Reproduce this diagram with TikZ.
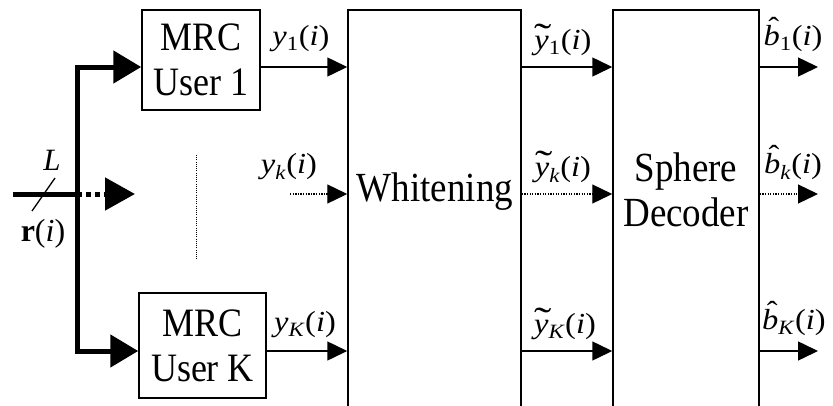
\documentclass[tikz,border=0pt]{standalone}
\usepackage{fontspec}
\setmainfont{Liberation Serif}
\usetikzlibrary{arrows.meta}
\newcommand\myhatb{\ooalign{\textit{b}\cr\hfil\kern0.12em\raisebox{0.28em}{\char"02C6}\hfil\cr}}
\newcommand\mytildey{\rlap{\makebox[0.46em][c]{\kern0.1em\raisebox{0.02em}{\scalebox{1.6}[1.3]{\char"02DC}}}}\textit{y}}
\newcommand\wlab[1]{\scalebox{1.12}[1]{#1}}
\newcommand\tallt[1]{\scalebox{1}[1.12]{#1}}
\begin{document}
\begin{tikzpicture}[x=1pt,y=-1pt,
  box/.style={draw,line width=1.5pt,inner sep=0pt,align=center,font=\fontsize{36}{45}\selectfont},
  bigtxt/.style={inner sep=0pt,align=center,font=\fontsize{37}{45}\selectfont},
  lbl/.style={inner sep=0pt,font=\fontsize{29}{32}\selectfont},
  thin/.style={line width=1.5pt,-{Triangle[length=20pt,width=19pt]}},
  dotline/.style={line width=1.3pt,dash pattern=on 1.3pt off 1.3pt,-{Triangle[length=20pt,width=19pt]}},
  fat/.style={line width=5pt,-{Triangle[length=28pt,width=32pt]}},
  fatline/.style={line width=5pt}]
\useasboundingbox (0,0) rectangle (833,405);
% rows
\coordinate (row1) at (0,67);
\coordinate (rowk) at (0,194);
\coordinate (rowK) at (0,351);
% blocks
\node[box,minimum width=118pt,minimum height=100pt] (mrc1) at (201,60) {\tallt{MRC}\\\tallt{User 1}};
\node[box,minimum width=127pt,minimum height=105pt] (mrcK) at (202.5,345.5) {\tallt{MRC}\\\tallt{User K}};
\node[draw,line width=1.5pt,minimum width=173pt,minimum height=420pt] (wh) at (434.5,220) {};
\node[bigtxt] (whtxt) at (435,192) {\tallt{Whitening}};
\node[draw,line width=1.5pt,minimum width=146pt,minimum height=420pt] (sd) at (686,220) {};
\node[bigtxt] (sdtxt) at (686,190) {\tallt{Sphere}\\\tallt{Decoder}};
% input
\coordinate (src) at (13,194);
\coordinate (split) at (77,194);
\coordinate (tipk) at (135,194);
\draw[fatline] (src) -- (split);
\draw[fat] (split) |- (mrc1.west |- row1);
\draw[fat] (split) |- (mrcK.west |- rowK);
\draw[line width=5pt,dash pattern=on 5pt off 4pt,-{Triangle[length=30pt,width=32pt]}] (split) -- (tipk);
\coordinate (sl1) at (32,211);
\coordinate (sl2) at (55,178);
\draw[line width=1.3pt] (sl1) -- (sl2);
\node[lbl,font=\fontsize{31}{34}\selectfont] (L) at (52,160) {\textit{L}};
\node[lbl,font=\fontsize{32}{34}\selectfont] (r) at (43,234) {\textbf{r}(\textit{i})};
% dotted vertical
\coordinate (dv1) at (196,155);
\coordinate (dv2) at (196,260);
\draw[line width=1pt,dash pattern=on 1pt off 1.2pt] (dv1) -- (dv2);
% MRC -> whitening
\draw[thin] (mrc1.east |- row1) -- (wh.west |- row1);
\draw[thin] (mrcK.east |- rowK) -- (wh.west |- rowK);
\coordinate (ykstart) at (290,194);
\draw[dotline] (ykstart) -- (wh.west |- rowk);
\node[lbl] (y1) at (301,39) {\wlab{\textit{y}\textsubscript{1}(\textit{i})}};
\node[lbl] (yk) at (289,167) {\wlab{\textit{y}\textsubscript{\textit{k}}(\textit{i})}};
\node[lbl] (yK) at (305,325) {\wlab{\textit{y}\textsubscript{\textit{K}}(\textit{i})}};
% whitening -> sphere decoder
\draw[thin] (wh.east |- row1) -- (sd.west |- row1);
\draw[dotline] (wh.east |- rowk) -- (sd.west |- rowk);
\draw[thin] (wh.east |- rowK) -- (sd.west |- rowK);
\node[lbl] (t1) at (563,40) {\wlab{\mytildey\textsubscript{1}(\textit{i})}};
\node[lbl] (tk) at (563,167) {\wlab{\mytildey\textsubscript{\textit{k}}(\textit{i})}};
\node[lbl] (tK) at (565,324) {\wlab{\mytildey\textsubscript{\textit{K}}(\textit{i})}};
% outputs
\coordinate (o1) at (818,67);
\coordinate (ok) at (818,194);
\coordinate (oK) at (818,351);
\draw[thin] (sd.east |- row1) -- (o1);
\draw[dotline] (sd.east |- rowk) -- (ok);
\draw[thin] (sd.east |- rowK) -- (oK);
\node[lbl] (b1) at (793,39) {\wlab{\myhatb\textsubscript{1}(\textit{i})}};
\node[lbl] (bk) at (793,167) {\wlab{\myhatb\textsubscript{\textit{k}}(\textit{i})}};
\node[lbl] (bK) at (794,323) {\wlab{\myhatb\textsubscript{\textit{K}}(\textit{i})}};
\end{tikzpicture}
\end{document}
